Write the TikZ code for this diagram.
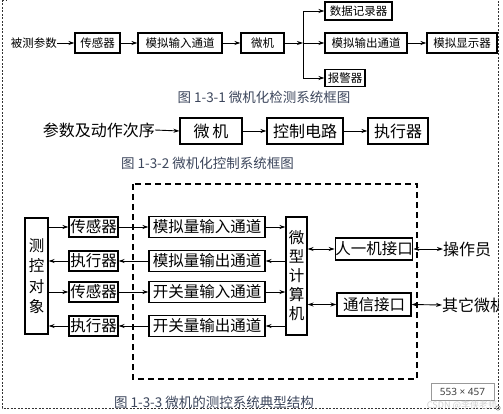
\documentclass[tikz,border=0pt]{standalone}
\usepackage{fontspec}
\setmainfont{Noto Sans CJK SC}
\newfontfamily\sizefont{Noto Sans}
\usetikzlibrary{arrows.meta}
\definecolor{capcol}{RGB}{60,70,92}
\tikzset{
  x=1pt,y=-1pt,
  box/.style={draw,line width=1.1pt,inner sep=0pt,anchor=center},
  smallbox/.style={box,font=\fontsize{11.5}{12}\selectfont},
  bigbox/.style={box,font=\fontsize{15.5}{16}\selectfont},
  arr/.style={line width=0.9pt,-{Stealth[length=6pt,width=4pt]}},
  darr/.style={line width=0.9pt,{Stealth[length=6pt,width=4pt]}-{Stealth[length=6pt,width=4pt]}},
  caption/.style={text=capcol,font=\fontsize{13.5}{14}\selectfont,inner sep=0pt},
  shot/.style={line width=0.6pt,dash pattern=on 2pt off 1.5pt,black!80},
}
\begin{document}
\begin{tikzpicture}
\useasboundingbox (0,0) rectangle (503,414);
% ---------- Figure 1-3-1 ----------
\node[inner sep=0pt,anchor=east,font=\fontsize{11.5}{12}\selectfont] (in1) at (57,43) {被测参数};
\node[smallbox,minimum width=45,minimum height=20] (b1) at (97.5,43) {传感器};
\node[smallbox,minimum width=84,minimum height=20] (b2) at (180,43) {模拟输入通道};
\node[smallbox,minimum width=43,minimum height=20] (b3) at (262.5,43) {微机};
\coordinate (br) at (303,43);
\node[smallbox,minimum width=67,minimum height=18] (b4) at (358.5,11) {数据记录器};
\node[smallbox,minimum width=82,minimum height=20] (b5) at (366,43) {模拟输出通道};
\node[smallbox,minimum width=70,minimum height=20] (b6) at (462,43) {模拟显示器};
\node[smallbox,minimum width=40,minimum height=17] (b7) at (345,78) {报警器};
\draw[arr] (in1.east) -- (b1.west);
\draw[arr] (b1.east) -- (b2.west);
\draw[arr] (b2.east) -- (b3.west);
\draw[arr] (b3.east) -- (br);
\draw[arr] (br) -- (b5.west);
\draw[arr] (br) |- (b4.west);
\draw[arr] (br) |- (b7.west);
\draw[arr] (b5.east) -- (b6.west);
\node[caption] (cap1) at (264,97) {图 1-3-1 微机化检测系统框图};
% ---------- Figure 1-3-2 ----------
\node[inner sep=0pt,anchor=east,font=\fontsize{16}{17}\selectfont] (in2) at (155,130) {参数及动作次序};
\node[box,font=\fontsize{16}{17}\selectfont,minimum width=62,minimum height=26] (c1) at (211,131) {微\,机};
\node[box,font=\fontsize{16}{17}\selectfont,minimum width=76,minimum height=26] (c2) at (305,131) {控制电路};
\node[box,font=\fontsize{16}{17}\selectfont,minimum width=60,minimum height=26] (c3) at (398,131) {执行器};
\draw[arr] (in2.east) -- (c1.west);
\draw[arr] (c1.east) -- (c2.west);
\draw[arr] (c2.east) -- (c3.west);
\node[caption] (cap2) at (207.5,163) {图 1-3-2 微机化控制系统框图};
% ---------- Figure 1-3-3 ----------
\draw[line width=1.2pt,dash pattern=on 6pt off 4pt] (133,184) rectangle (417,379);
\node[bigbox,minimum width=23,minimum height=116,align=center,
  font=\fontsize{15.5}{20.5}\selectfont] (obj) at (36.5,276) {测\\控\\对\\象};
\node[bigbox,minimum width=21,minimum height=118,align=center,
  font=\fontsize{15.5}{19}\selectfont] (mc) at (296.5,276) {微\\型\\计\\算\\机};
\node[bigbox,minimum width=49,minimum height=20] (s1) at (93.5,227) {传感器};
\node[bigbox,minimum width=49,minimum height=20] (a2) at (93.5,261) {执行器};
\node[bigbox,minimum width=49,minimum height=20] (s3) at (93.5,292) {传感器};
\node[bigbox,minimum width=49,minimum height=20] (a4) at (93.5,326) {执行器};
\node[bigbox,minimum width=116,minimum height=21] (ch1) at (207,227) {模拟量输入通道};
\node[bigbox,minimum width=116,minimum height=21] (ch2) at (207,261) {模拟量输出通道};
\node[bigbox,minimum width=116,minimum height=21] (ch3) at (207,292) {开关量输入通道};
\node[bigbox,minimum width=116,minimum height=21] (ch4) at (207,326) {开关量输出通道};
\node[bigbox,minimum width=74,minimum height=22] (hmi) at (374,249) {人一机接口};
\node[bigbox,minimum width=74,minimum height=23] (com) at (374,304.5) {通信接口};
\node[inner sep=0pt,anchor=west,font=\fontsize{16}{17}\selectfont] (op) at (443,249) {操作员};
\node[inner sep=0pt,anchor=west,font=\fontsize{16}{17}\selectfont] (ot) at (442,305) {其它微机};
% row 1 and 3: inputs
\draw[arr] (obj.east |- s1) -- (s1.west);
\draw[arr] (s1.east) -- (ch1.west);
\draw[arr] (ch1.east) -- (mc.west |- ch1);
\draw[arr] (obj.east |- s3) -- (s3.west);
\draw[arr] (s3.east) -- (ch3.west);
\draw[arr] (ch3.east) -- (mc.west |- ch3);
% row 2 and 4: outputs
\draw[arr] (mc.west |- ch2) -- (ch2.east);
\draw[arr] (ch2.west) -- (a2.east);
\draw[arr] (a2.west) -- (obj.east |- a2);
\draw[arr] (mc.west |- ch4) -- (ch4.east);
\draw[arr] (ch4.west) -- (a4.east);
\draw[arr] (a4.west) -- (obj.east |- a4);
% interfaces
\draw[darr] (mc.east |- hmi) -- (hmi.west);
\draw[darr] (hmi.east) -- (op.west);
\draw[darr] (mc.east |- com) -- (com.west);
\draw[darr] (com.east) -- (ot.west);
\node[caption] (cap3) at (214,402) {图 1-3-3 微机的测控系统典型结构};
% ---------- screenshot frame ----------
\fill[white] (498.6,0) rectangle (503,414);
\draw[shot] (2,0) -- (2,408) -- (498,408) -- (498,0);
\draw[shot] (2,0.5) -- (6,0.5);
\draw[black!60,line width=0.5pt] (498,408) circle (2.2);
\node[draw=black!40,line width=0.6pt,fill=white,minimum width=63,minimum height=17,inner sep=0pt,
  text=black!75,font=\sizefont\fontsize{10}{11}\selectfont] (sz) at (462.5,391.5) {553 × 457};
\node[inner sep=0pt,text=black!18,font=\fontsize{9}{10}\selectfont] (wm) at (462,405) {CSDN @李侠老师};
\end{tikzpicture}
\end{document}
